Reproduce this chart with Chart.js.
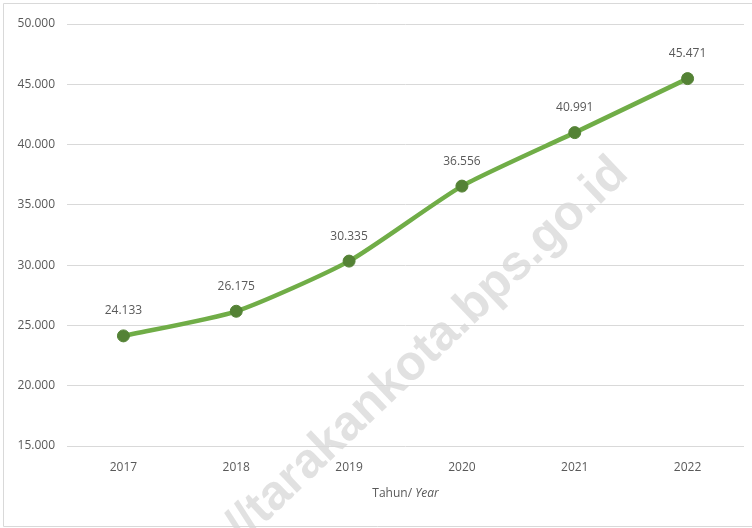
<!DOCTYPE html>
<html>
<head>
<meta charset="utf-8">
<script src="https://cdn.jsdelivr.net/npm/chart.js@4.4.1/dist/chart.umd.min.js"></script>
<style>
  html, body { margin: 0; padding: 0; background: #fff; }
  #wrap { width: 752px; height: 528px; position: relative; }
</style>
</head>
<body>
<div id="wrap"><canvas id="myChart" width="752" height="528"></canvas></div>
<script>
// data
const tahun = ["2017", "2018", "2019", "2020", "2021", "2022"];
const nilai = [24133, 26175, 30335, 36556, 40991, 45471];
const yMin = 15000;
const yMax = 50000;
const yStep = 5000;

const fontFam = "'Open Sans', 'Liberation Sans', sans-serif";
const textColor = "#595959";

// format angka pakai titik ribuan
function fmt(v) {
    return String(Math.round(v)).replace(/\B(?=(\d{3})+(?!\d))/g, ".");
}

// label nilai di atas titik + judul sumbu x + watermark + bingkai
const extras = {
    id: "extras",
    beforeDatasetsDraw(chart) {
        const ctx = chart.ctx;
        ctx.save();
        ctx.translate(630, 176);
        ctx.rotate(-0.76);
        ctx.font = "bold 49px 'Liberation Sans', Arial, sans-serif";
        ctx.fillStyle = "rgba(215,215,215,0.75)";
        ctx.textAlign = "right";
        ctx.textBaseline = "alphabetic";
        ctx.fillText("//tarakankota.bps.go.id", 0, 0);
        ctx.restore();
    },
    afterDatasetsDraw(chart) {
        const ctx = chart.ctx;
        const meta = chart.getDatasetMeta(0);
        ctx.save();
        ctx.font = "12px " + fontFam;
        ctx.fillStyle = textColor;
        ctx.textAlign = "center";
        ctx.textBaseline = "middle";
        meta.data.forEach(function (pt, i) {
            ctx.fillText(fmt(nilai[i]), pt.x, pt.y - 25);
        });

        // judul sumbu x: "Tahun/ " biasa, "Year" miring
        const a = chart.chartArea;
        const cx = (a.left + a.right) / 2;
        const y = 494;
        ctx.font = "12px " + fontFam;
        const w1 = ctx.measureText("Tahun/ ").width;
        ctx.font = "italic 12px " + fontFam;
        const w2 = ctx.measureText("Year").width;
        const x0 = cx - (w1 + w2) / 2;
        ctx.textAlign = "left";
        ctx.font = "12px " + fontFam;
        ctx.fillText("Tahun/ ", x0, y);
        ctx.font = "italic 12px " + fontFam;
        ctx.fillText("Year", x0 + w1, y);

        // bingkai
        ctx.strokeStyle = "#d9d9d9";
        ctx.lineWidth = 1;
        ctx.beginPath();
        ctx.moveTo(752, 3.5);
        ctx.lineTo(3.5, 3.5);
        ctx.lineTo(3.5, 526.5);
        ctx.lineTo(752, 526.5);
        ctx.stroke();
        ctx.restore();
    }
};

const ctx = document.getElementById("myChart").getContext("2d");
new Chart(ctx, {
    type: "line",
    data: {
        labels: tahun,
        datasets: [{
            data: nilai,
            borderColor: "#70ad47",
            borderWidth: 4.5,
            pointRadius: 6,
            pointHoverRadius: 6,
            pointBackgroundColor: "#548235",
            pointBorderColor: "#548235",
            pointBorderWidth: 1,
            tension: 0.2,
            fill: false,
        }],
    },
    options: {
        responsive: false,
        animation: false,
        events: [],
        layout: {
            padding: { left: 0, top: 24, right: 8, bottom: 0 },
        },
        plugins: {
            legend: { display: false },
            tooltip: { enabled: false },
        },
        scales: {
            x: {
                offset: true,
                grid: { display: false, drawTicks: false },
                border: { display: false },
                ticks: {
                    color: textColor,
                    font: { family: fontFam, size: 12 },
                    padding: 14,
                    maxRotation: 0,
                },
                afterFit(scale) { scale.height = 82; },
            },
            y: {
                min: yMin,
                max: yMax,
                grid: { color: "#d9d9d9", lineWidth: 1, drawTicks: false },
                border: { display: false },
                ticks: {
                    stepSize: yStep,
                    color: textColor,
                    font: { family: fontFam, size: 12 },
                    padding: 12,
                    callback: function (v) { return fmt(v); },
                },
                afterFit(scale) { scale.width = 67; },
            },
        },
    },
    plugins: [extras],
});
</script>
</body>
</html>
